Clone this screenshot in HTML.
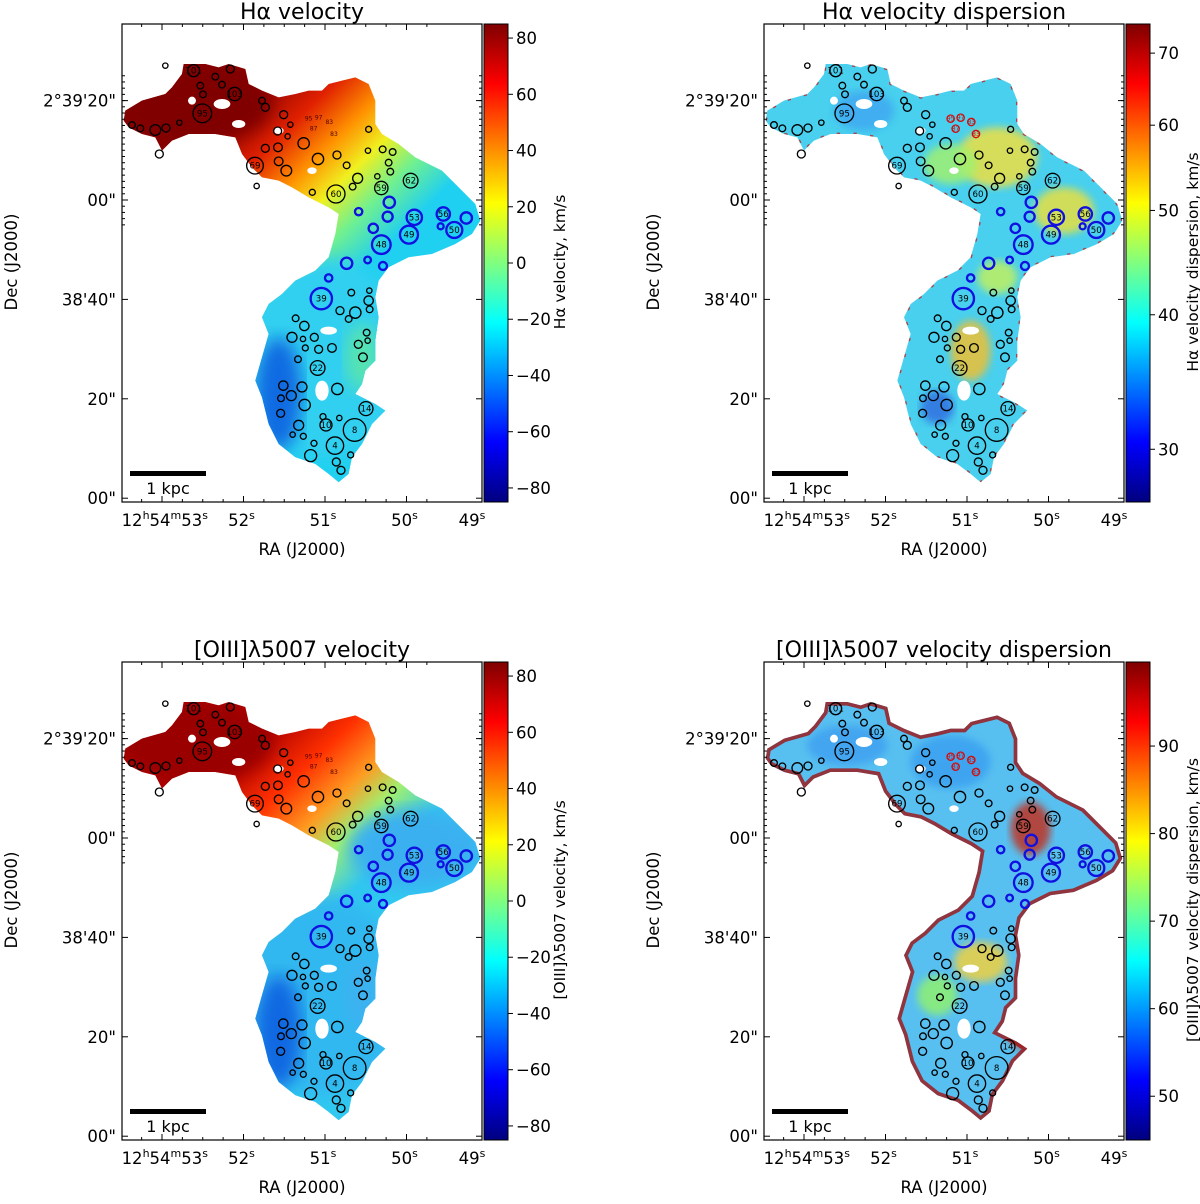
<!DOCTYPE html>
<html><head><meta charset="utf-8"><style>
html,body{margin:0;padding:0;background:#fff}
svg{display:block;font-family:"DejaVu Sans","Liberation Sans",sans-serif}
</style></head><body>
<svg id="fig" width="1200" height="1204" viewBox="0 0 1200 1204" xmlns="http://www.w3.org/2000/svg">
<defs>
<linearGradient id="jet" x1="0" y1="1" x2="0" y2="0">
<stop offset="0" stop-color="#00007f"/><stop offset="0.125" stop-color="#0000ff"/><stop offset="0.375" stop-color="#00ffff"/><stop offset="0.625" stop-color="#ffff00"/><stop offset="0.875" stop-color="#ff0000"/><stop offset="1" stop-color="#7f0000"/>
</linearGradient>
<linearGradient id="velHa" gradientUnits="userSpaceOnUse" x1="330" y1="260" x2="760" y2="700">
<stop offset="0" stop-color="#8a0000"/><stop offset="0.25" stop-color="#e02000"/><stop offset="0.45" stop-color="#ff9000"/><stop offset="0.62" stop-color="#f0f020"/><stop offset="0.8" stop-color="#70f090"/><stop offset="1" stop-color="#20d0f0"/>
</linearGradient>
<linearGradient id="velO3" gradientUnits="userSpaceOnUse" x1="380" y1="260" x2="740" y2="640">
<stop offset="0" stop-color="#b00000"/><stop offset="0.3" stop-color="#ff3000"/><stop offset="0.55" stop-color="#ff9a20"/><stop offset="0.75" stop-color="#a0f070"/><stop offset="1" stop-color="#30c8f0"/>
</linearGradient>
<filter id="blur"><feGaussianBlur stdDeviation="25"/></filter>
<filter id="blur2"><feGaussianBlur stdDeviation="12"/></filter>
</defs>
</svg>
<script>
// ---- data ----
const panelTitles = ["Hα velocity","Hα velocity dispersion","[OIII]λ5007 velocity","[OIII]λ5007 velocity dispersion"];
const cbarLabels = ["Hα velocity, km/s","Hα velocity dispersion, km/s","[OIII]λ5007 velocity, km/s","[OIII]λ5007 velocity dispersion, km/s"];
const cbarTicks0 = [80,60,40,20,0,-20,-40,-60,-80];
const cbarTicks1 = [70,60,50,40,30];
const cbarTicks2 = [80,60,40,20,0,-20,-40,-60,-80];
const cbarTicks3 = [90,80,70,60,50];
const raSeconds = [52,51,50];
const decOffsets = [20,0,-20,-40,-60];
const decLabels = ["2°39'20\"","00\"","38'40\"","20\"","00\""];
// regions: x, y (map pixels ×3), radius, label, colour
const regX = [215,338,241,130,325,280,235,243,300,420,430,485,505,30,55,100,132,172,112,467,497,545,430,468,470,493,588,645,674,399,404,740,738,782,812,800,805,707,692,766,642,571,778,866,802,710,797,877,964,1033,956,997,861,754,778,674,737,783,620,598,688,742,740,743,654,700,680,521,547,510,543,577,734,550,590,630,709,737,528,723,587,484,540,646,477,508,548,732,476,603,652,612,530,698,512,544,576,639,566,686,643,657];
const regY = [140,210,268,125,135,158,185,211,182,230,250,272,302,303,313,318,312,296,390,321,337,358,373,370,412,440,405,393,424,425,486,316,380,376,384,416,443,463,488,457,510,505,492,470,535,563,578,580,570,582,607,618,632,613,662,718,708,726,762,824,806,800,830,856,860,866,885,883,906,940,945,940,926,972,976,972,961,950,1006,1000,1032,1085,1089,1095,1123,1115,1143,1154,1168,1178,1182,1203,1204,1218,1232,1237,1258,1265,1295,1293,1314,1339];
const regR = [18,20,28,8,12,10,10,10,10,10,12,12,8,10,10,16,12,8,12,12,8,17,12,13,13,16,17,12,10,25,8,9,8,10,10,10,10,15,10,8,27,9,20,22,17,11,15,23,20,17,9,24,27,14,28,17,10,12,11,32,10,8,14,10,12,17,10,10,14,15,8,12,10,9,12,13,12,8,10,13,22,14,15,17,10,15,17,21,12,9,8,18,15,34,8,9,9,26,18,9,12,12];
const regLabel = ["101","103","95","","","","","","","","","","","","","","","","","","","","","","","","","","","69","","","","","","","","","","","60","","59","62","","","","53","56","","","50","49","","48","","","","","39","","","","","","","","","","","","","","","","","","","","","22","","","","","","","14","","","","10","","8","","","","4","","",""];
const regBlue = [44,45,46,47,48,49,50,51,52,53,54,55,56,57,58,59];
const redLabels = [["95",560,290],["97",590,287],["83",622,300],["87",575,320],["83",636,336]];

const NS="http://www.w3.org/2000/svg";
const svg=document.getElementById('fig');
function el(tag,attrs,parent){const e=document.createElementNS(NS,tag);for(const k in attrs)e.setAttribute(k,attrs[k]);(parent||svg).appendChild(e);return e;}

const outline="5,290 10,260 60,230 130,210 150,190 180,150 185,120 250,120 290,130 320,120 370,135 380,180 420,200 470,220 520,210 560,200 600,200 620,180 660,170 700,160 740,180 760,230 760,300 780,330 830,360 880,400 960,440 1020,500 1060,540 1075,590 1050,630 1000,660 930,690 860,700 800,730 770,770 760,820 770,880 760,950 760,1010 730,1040 720,1080 700,1110 760,1140 790,1160 750,1200 720,1260 690,1300 680,1350 650,1375 620,1350 580,1320 520,1300 470,1260 440,1200 420,1120 400,1070 420,1000 440,930 420,880 440,840 480,810 520,770 580,740 620,700 640,630 650,570 620,550 560,520 510,490 470,470 420,460 390,430 360,390 340,340 280,330 200,330 150,350 120,380 100,340 60,330 20,310";
const holes=[[300,240,25,15],[210,230,12,12],[600,1100,20,30],[620,920,25,12],[470,320,15,10],[350,300,20,12],[570,440,14,10]];

const panels=[
 {ox:122,oy:24,ticks:cbarTicks0,scale:v=>(v+85)/170,kind:'velHa'},
 {ox:764,oy:24,ticks:cbarTicks1,scale:v=>Math.log(v/26.8)/Math.log(74.5/26.8),kind:'dispHa'},
 {ox:122,oy:662,ticks:cbarTicks2,scale:v=>(v+85)/170,kind:'velO3'},
 {ox:764,oy:662,ticks:cbarTicks3,scale:v=>(v-45)/54.6,kind:'dispO3'}
];
const W=360,H=478;
const xOf=s=>203+(51-s)*81.5;
const yOf=d=>176-d*4.97;

panels.forEach((p,i)=>{
  const g=el('g',{transform:`translate(${p.ox},${p.oy})`});
  
  
  const cid='clip'+i;
  const cp=el('clipPath',{id:cid},g); el('rect',{x:0,y:0,width:W,height:H},cp);
  const m=el('g',{'clip-path':`url(#${cid})`},g);
  
  
  const s=el('g',{transform:'scale(0.3333)'},m);
  const poly=el('polygon',{points:outline},s);
  if(p.kind==='velHa'||p.kind==='velO3'){
    poly.setAttribute('fill',p.kind==='velHa'?'url(#velHa)':'url(#velO3)');
    const bodyC=p.kind==='velHa'?'#30d0f0':'#30b8f0';
    const cl=el('clipPath',{id:'bc'+i},s); el('polygon',{points:outline},cl);
    const o=el('g',{'clip-path':`url(#bc${i})`},s);
    el('ellipse',{cx:600,cy:1000,rx:260,ry:300,fill:bodyC,filter:'url(#blur)'},o);
    el('ellipse',{cx:470,cy:1110,rx:70,ry:170,fill:'#1060e0',filter:'url(#blur)',opacity:0.9},o);
    el('ellipse',{cx:720,cy:1000,rx:50,ry:100,fill:p.kind==='velHa'?'#60e8a0':'#40b0f0',filter:'url(#blur)',opacity:0.8},o);
    el('ellipse',{cx:220,cy:240,rx:230,ry:120,fill:p.kind==='velHa'?'#800000':'#9a0000',filter:'url(#blur)'},o);
    if(p.kind==='velO3'){el('ellipse',{cx:880,cy:560,rx:200,ry:120,fill:'#3ab0f0',filter:'url(#blur)'},o);}
  } else {
    const base=p.kind==='dispHa'?'#48d0ee':'#58c0f0';
    poly.setAttribute('fill',base);
    const cl=el('clipPath',{id:'bc'+i},s); el('polygon',{points:outline},cl);
    const o=el('g',{'clip-path':`url(#bc${i})`},s);
    const blobs=p.kind==='dispHa'
      ?[[700,400,120,90,'#f0e040'],[900,560,90,70,'#e8e040'],[560,420,80,60,'#a0f070'],[620,980,60,90,'#f0c030'],[520,1150,50,50,'#3070e0'],[300,260,90,60,'#40a8f0'],[700,760,60,50,'#c0f060']]
      :[[560,300,120,80,'#3aa0f0'],[800,500,60,80,'#c03020'],[650,900,80,60,'#f0d040'],[520,1000,60,60,'#90f070'],[780,1100,50,60,'#c03020'],[250,250,120,60,'#40a0f0']];
    blobs.forEach(b=>el('ellipse',{cx:b[0],cy:b[1],rx:b[2],ry:b[3],fill:b[4],filter:'url(#blur2)',opacity:0.85},o));
    if(p.kind==='dispO3'){el('polygon',{points:outline,fill:'none',stroke:'#a01010',"stroke-width":22,opacity:0.8},o);}
    if(p.kind==='dispHa'){el('polygon',{points:outline,fill:'none',stroke:'#c02020',"stroke-width":8,"stroke-dasharray":"10 40",opacity:0.8},o);}
  }
  holes.forEach(h=>el('ellipse',{cx:h[0],cy:h[1],rx:h[2],ry:h[3],fill:'#fff'},s));
  // regions
  regX.forEach((x,k)=>{
    const blue=regBlue.includes(k);
    const c=el('circle',{cx:x,cy:regY[k],r:regR[k],fill:'none',stroke:blue?'#1010e0':'#000',"stroke-width":blue?7:4},s);
    
    
    if(regLabel[k]){
      const t=el('text',{x:x,y:regY[k]+9,"text-anchor":"middle","font-size":26,fill:'#000'},s);
      t.textContent=regLabel[k];
      
      
    }
  });
  redLabels.forEach(r=>{
    if(i%2) el('circle',{cx:r[1],cy:r[2]-6,r:11,fill:'none',stroke:'#d01010',"stroke-width":4},s);
    const t=el('text',{x:r[1],y:r[2],"text-anchor":"middle","font-size":18,fill:(i%2?'#d01010':'#500000')},s);t.textContent=r[0];});
  // scale bar
  el('rect',{x:8,y:447,width:76,height:5,fill:'#000'},g);
  const sb=el('text',{x:46,y:470,"text-anchor":"middle","font-size":16},g);sb.textContent='1 kpc';
  
  
  // frame
  el('rect',{x:0,y:0,width:W,height:H,fill:'none',stroke:'#000',"stroke-width":1.2},g);
  // ticks
  const xt=[53,52,51,50].map(xOf), yt=decOffsets.map(yOf);
  xt.forEach(x=>{el('line',{x1:x,y1:H,x2:x,y2:H-6,stroke:'#000'},g);el('line',{x1:x,y1:0,x2:x,y2:6,stroke:'#000'},g);});
  for(let k=0;k<16;k++){const x=xOf(53.5)+k*81.5/4;if(x>0&&x<W){el('line',{x1:x,y1:H,x2:x,y2:H-3,stroke:'#000'},g);el('line',{x1:x,y1:0,x2:x,y2:3,stroke:'#000'},g);}}
  yt.forEach(y=>{if(y<H){el('line',{x1:0,y1:y,x2:6,y2:y,stroke:'#000'},g);el('line',{x1:W,y1:y,x2:W-6,y2:y,stroke:'#000'},g);}});
  for(let k=0;k<25;k++){const y=yOf(25)+k*4.97*5/4;if(y>0&&y<H){el('line',{x1:0,y1:y,x2:3,y2:y,stroke:'#000'},g);el('line',{x1:W,y1:y,x2:W-3,y2:y,stroke:'#000'},g);}}
  // y labels
  decLabels.forEach((lab,k)=>{const y=Math.min(yOf(decOffsets[k]),H-2);const t=el('text',{x:-6,y:y+6,"text-anchor":"end","font-size":16.5},g);t.textContent=lab;
    
    });
  // x labels
  const xl=el('text',{x:xOf(53)+46,y:H+24,"text-anchor":"end","font-size":16.5},g);
  xl.innerHTML='12<tspan font-size="11" dy="-7">h</tspan><tspan dy="7">54</tspan><tspan font-size="11" dy="-7">m</tspan><tspan dy="7">53</tspan><tspan font-size="11" dy="-7">s</tspan>';
  
  
  raSeconds.forEach(sv=>{const t=el('text',{x:xOf(sv)-2,y:H+24,"text-anchor":"middle","font-size":16.5},g);t.innerHTML=sv+'<tspan font-size="11" dy="-7">s</tspan>';
    
    });
  const t49=el('text',{x:350,y:H+24,"text-anchor":"middle","font-size":16.5},g);t49.innerHTML='49<tspan font-size="11" dy="-7">s</tspan>';
  // axis titles
  const xa=el('text',{x:180,y:H+53,"text-anchor":"middle","font-size":16.5},g);xa.textContent='RA (J2000)';
  
  
  const ya=el('text',{transform:`translate(-105,238) rotate(-90)`,"text-anchor":"middle","font-size":16.5},g);ya.textContent='Dec (J2000)';
  
  
  const ti=el('text',{x:180,y:-5,"text-anchor":"middle","font-size":22},g);ti.textContent=panelTitles[i];
  
  
  // colorbar
  const cx=362;
  const cb=el('rect',{x:cx,y:0,width:24,height:H,fill:'url(#jet)',stroke:'#000',"stroke-width":1},g);
  
  
  p.ticks.forEach(v=>{const y=H-p.scale(v)*H;el('line',{x1:cx+24,y1:y,x2:cx+29,y2:y,stroke:'#000'},g);
    const t=el('text',{x:cx+32,y:y+6,"font-size":16.5},g);t.textContent=v<0?'\u2212'+(-v):v;
    
    });
  const cl=el('text',{transform:`translate(${i%2?434:443},238) rotate(-90)`,"text-anchor":"middle","font-size":15.5},g);cl.textContent=cbarLabels[i];
  
  
});
</script>
</body></html>
